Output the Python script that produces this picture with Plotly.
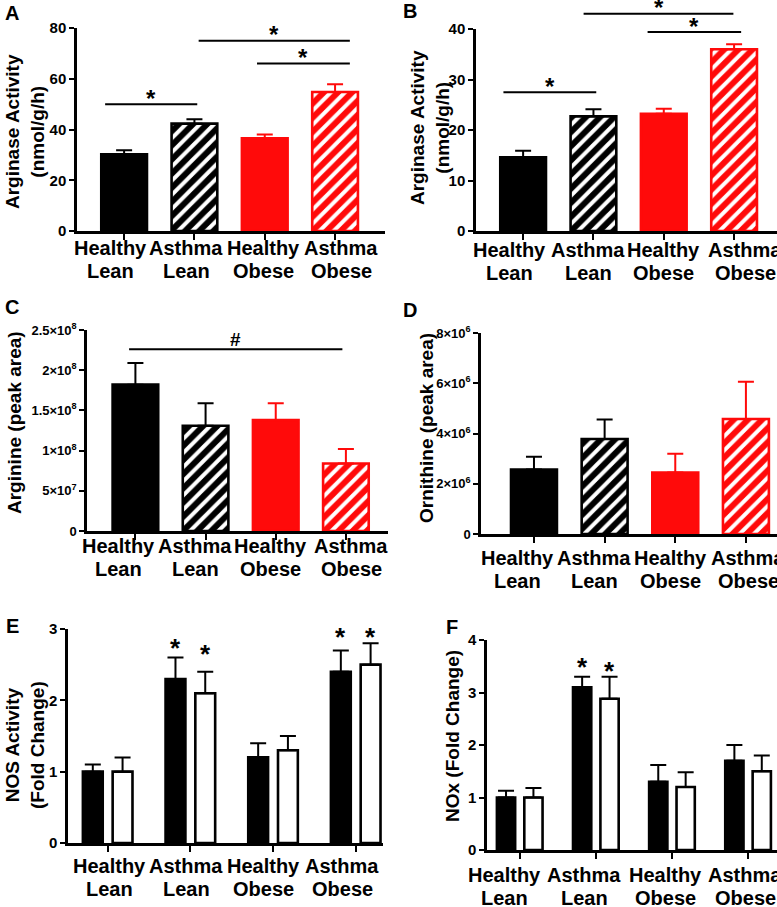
import plotly.graph_objects as go

W, H = 777, 907
FONT = "Liberation Sans, Arial, sans-serif"
RED = "#ff0a0a"

groups = ["Healthy<br>Lean", "Asthma<br>Lean", "Healthy<br>Obese", "Asthma<br>Obese"]

# A - arginase activity (nmol/g/h)
arg_a_mean = [30.2, 42.3, 36.5, 54.8]
arg_a_err = [1.6, 1.7, 1.5, 3.0]
# B - arginase activity (nmol/g/h)
arg_b_mean = [14.6, 22.7, 23.2, 36.0]
arg_b_err = [1.3, 1.4, 1.0, 1.0]
# C - arginine (peak area)
arginine_mean = [1.82e8, 1.31e8, 1.38e8, 0.84e8]
arginine_err = [0.27e8, 0.28e8, 0.21e8, 0.18e8]
# D - ornithine (peak area)
ornithine_mean = [2.57e6, 3.78e6, 2.45e6, 4.58e6]
ornithine_err = [0.50e6, 0.78e6, 0.74e6, 1.48e6]
# E - NOS activity (fold change), black / white series
nos_black = [1.0, 2.3, 1.2, 2.4]
nos_black_err = [0.1, 0.3, 0.2, 0.3]
nos_white = [1.0, 2.1, 1.3, 2.5]
nos_white_err = [0.2, 0.3, 0.2, 0.3]
# F - NOx (fold change)
nox_black = [1.0, 3.1, 1.3, 1.7]
nox_black_err = [0.13, 0.2, 0.32, 0.3]
nox_white = [1.0, 2.88, 1.2, 1.5]
nox_white_err = [0.18, 0.42, 0.28, 0.3]

# significance bars: (x start, x end in category units, level)
sig_a = [(-0.27, 1.04, 50), (1.06, 3.21, 75), (1.89, 3.21, 66)]
sig_b = [(-0.28, 1.04, 27.5), (0.86, 2.99, 43), (1.77, 3.10, 39.4)]
sig_c = [(-0.09, 2.95, 2.26e8)]
# stars over paired bars: (group, side -1 black / +1 white, level)
stars_e = [(1, -1, 2.80), (1, 1, 2.72), (3, -1, 2.96), (3, 1, 2.96)]
stars_f = [(1, -1, 3.58), (1, 1, 3.50)]

# panel geometry in pixels: x domain, y domain (bottom, top), ranges,
# category label centres and top of the first label line
panels = [
    dict(xd=(77, 385), yd=(231, 28), xr=(-0.67, 3.71), yr=(0, 80),
         lab=(110, 186, 263, 341), lab_top=240),
    dict(xd=(476, 777), yd=(231, 29), xr=(-0.67, 3.61), yr=(0, 40),
         lab=(509, 588, 663, 745), lab_top=242),
    dict(xd=(87, 388), yd=(531, 330), xr=(-0.69, 3.60), yr=(0, 2.5e8),
         lab=(118, 195, 270, 351), lab_top=538),
    dict(xd=(481, 777), yd=(534, 333), xr=(-0.75, 3.44), yr=(0, 8e6),
         lab=(517, 594, 670, 748), lab_top=550),
    dict(xd=(68, 383), yd=(843, 629), xr=(-0.48, 3.33), yr=(0, 3),
         lab=(109, 186, 263, 342), lab_top=858),
    dict(xd=(487, 777), yd=(850, 640), xr=(-0.43, 3.38), yr=(0, 4),
         lab=(504, 584, 665, 745), lab_top=867),
]


def py(p):
    return 1 - p / H


def val_to_paper(i, v):
    pn = panels[i]
    b, t = py(pn["yd"][0]), py(pn["yd"][1])
    return b + (v - pn["yr"][0]) / (pn["yr"][1] - pn["yr"][0]) * (t - b)


def hatch(col):
    return dict(color="white", line=dict(color=col, width=2.6),
                pattern=dict(shape="/", fgcolor=col, bgcolor="white", fgopacity=1,
                             size=10, solidity=0.6))


def solid(col):
    return dict(color=col, line=dict(color=col, width=2.6))


def err(arr, col):
    return dict(type="data", array=arr, arrayminus=[0] * len(arr), symmetric=False,
                color=col, thickness=2, width=8)


fig = go.Figure()

single = [(arg_a_mean, arg_a_err), (arg_b_mean, arg_b_err),
          (arginine_mean, arginine_err), (ornithine_mean, ornithine_err)]
for i, (mean, e) in enumerate(single):
    ax = "" if i == 0 else str(i + 1)
    for j in range(4):
        col = "black" if j < 2 else RED
        mk = solid(col) if j % 2 == 0 else hatch(col)
        fig.add_trace(go.Bar(x=[groups[j]], y=[mean[j]], error_y=err([e[j]], col),
                             marker=mk, width=0.65, offset=-0.325,
                             xaxis="x" + ax, yaxis="y" + ax, showlegend=False))

paired = [(nos_black, nos_black_err, nos_white, nos_white_err),
          (nox_black, nox_black_err, nox_white, nox_white_err)]
for k, (bm, be, wm, we) in enumerate(paired):
    ax = str(k + 5)
    fig.add_trace(go.Bar(x=groups, y=bm, error_y=err(be, "black"), marker=solid("black"),
                         width=0.24, offset=-0.30, xaxis="x" + ax, yaxis="y" + ax,
                         showlegend=False))
    fig.add_trace(go.Bar(x=groups, y=wm, error_y=err(we, "black"),
                         marker=dict(color="white", line=dict(color="black", width=2.6)),
                         width=0.24, offset=0.06, xaxis="x" + ax, yaxis="y" + ax,
                         showlegend=False))

layout = {}
for i, pn in enumerate(panels):
    n = "" if i == 0 else str(i + 1)
    layout["xaxis" + n] = dict(
        domain=[pn["xd"][0] / W, pn["xd"][1] / W], range=list(pn["xr"]),
        anchor="y" + n, type="category", showline=True, linewidth=2.5, linecolor="black",
        ticks="outside", ticklen=6, tickwidth=2, tickcolor="black", showgrid=False,
        zeroline=False, showticklabels=False, automargin=False, fixedrange=True)
    layout["yaxis" + n] = dict(
        domain=[py(pn["yd"][0]), py(pn["yd"][1])], range=list(pn["yr"]),
        anchor="x" + n, showline=True, linewidth=2.5, linecolor="black",
        ticks="outside", ticklen=5, tickwidth=2, tickcolor="black", showgrid=False,
        zeroline=False, tickfont=dict(family=FONT, size=15, color="black", weight="bold"),
        automargin=False, fixedrange=True)

layout["yaxis"]["dtick"] = 20
layout["yaxis2"]["dtick"] = 10
layout["yaxis3"].update(tickvals=[0, 5e7, 1e8, 1.5e8, 2e8, 2.5e8],
                        ticktext=["0", "5×10<sup>7</sup>", "1×10<sup>8</sup>", "1.5×10<sup>8</sup>",
                                  "2×10<sup>8</sup>", "2.5×10<sup>8</sup>"])
layout["yaxis3"]["tickfont"]["size"] = 13
layout["yaxis4"].update(tickvals=[0, 2e6, 4e6, 6e6, 8e6],
                        ticktext=["0", "2×10<sup>6</sup>", "4×10<sup>6</sup>", "6×10<sup>6</sup>",
                                  "8×10<sup>6</sup>"])
layout["yaxis4"]["tickfont"]["size"] = 13
layout["yaxis5"]["dtick"] = 1
layout["yaxis6"]["dtick"] = 1

shapes = []
ann = []
bold = lambda s: dict(family=FONT, size=s, color="black", weight="bold")

# category labels, two lines each
for pn in panels:
    for cx, g in zip(pn["lab"], groups):
        for ln, part in enumerate(g.split("<br>")):
            ann.append(dict(text=part, xref="paper", yref="paper", x=cx / W,
                            y=py(pn["lab_top"] - 5 + 23 * ln), xanchor="center",
                            yanchor="top", showarrow=False, font=bold(20)))

for i, sig, mark in [(0, sig_a, "*"), (1, sig_b, "*"), (2, sig_c, "#")]:
    xr = "x" if i == 0 else "x" + str(i + 1)
    for x0, x1, lvl in sig:
        yp = val_to_paper(i, lvl)
        shapes.append(dict(type="line", xref=xr, yref="paper", x0=x0, x1=x1, y0=yp, y1=yp,
                           line=dict(color="black", width=2)))
        ann.append(dict(text=mark, xref=xr, yref="paper", x=(x0 + x1) / 2, y=yp,
                        yanchor="middle", yshift=6 if mark == "*" else 10,
                        showarrow=False, font=bold(24 if mark == "*" else 19)))

for i, stars in [(4, stars_e), (5, stars_f)]:
    xr = "x" + str(i + 1)
    for g, side, lvl in stars:
        ann.append(dict(text="*", xref=xr, yref="paper", x=g + 0.18 * side,
                        y=val_to_paper(i, lvl), yanchor="middle", yshift=-5,
                        showarrow=False, font=bold(26)))

# y titles: text, centre x px, centre y px, size
ytitles = [("Arginase Activity<br>(nmol/g/h)", 25, 132, 19),
           ("Arginase Activity<br>(nmol/g/h)", 430, 128, 19),
           ("Arginine (peak area)", 14, 423, 19),
           ("Ornithine (peak area)", 426, 428, 19),
           ("NOS Activity<br>(Fold Change)", 25, 745, 19),
           ("NOx (Fold Change)", 452, 736, 19)]
for t, x, y, s in ytitles:
    ann.append(dict(text=t, xref="paper", yref="paper", x=x / W, y=py(y), textangle=-90,
                    xanchor="center", yanchor="middle", showarrow=False, font=bold(s)))

letters = [("A", 12, 13), ("B", 410, 11), ("C", 12, 307), ("D", 410, 310),
           ("E", 12, 626), ("F", 452, 627)]
for t, x, y in letters:
    ann.append(dict(text=t, xref="paper", yref="paper", x=x / W, y=py(y),
                    xanchor="center", yanchor="middle", showarrow=False, font=bold(20)))

fig.update_layout(**layout)
fig.update_layout(width=W, height=H, margin=dict(l=0, r=0, t=0, b=0),
                  paper_bgcolor="white", plot_bgcolor="white", barmode="group",
                  shapes=shapes, annotations=ann, showlegend=False)

# drop the default page margin so the figure sits at the window's corner
fig.write_html("out.html", config={"displayModeBar": False},
               post_script="document.body.style.margin='0';")
